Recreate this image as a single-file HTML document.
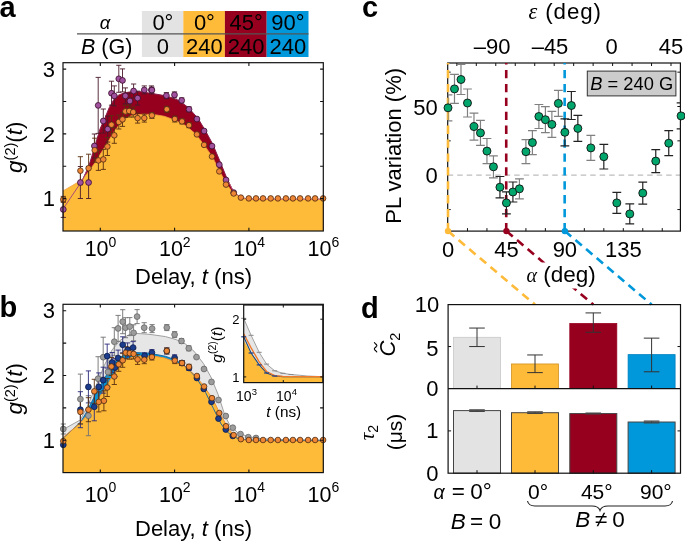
<!DOCTYPE html>
<html><head><meta charset="utf-8"><style>
html,body{margin:0;padding:0;background:#fff;width:685px;height:541px;overflow:hidden}
svg{display:block;will-change:transform}
text{font-family:"Liberation Sans",sans-serif}
</style></head><body>
<svg width="685" height="541" viewBox="0 0 685 541">
<rect width="685" height="541" fill="#fff"/>
<text x="-0.5" y="16.9" font-size="29" text-anchor="start" font-weight="bold" font-style="normal" font-family='"Liberation Sans", sans-serif' fill="#000" >a</text>
<rect x="141.9" y="11" width="41.4" height="46" fill="#E3E3E3"/>
<rect x="183.3" y="11" width="41.6" height="46" fill="#FEBB3A"/>
<rect x="224.9" y="11" width="41.8" height="46" fill="#96001E"/>
<rect x="266.7" y="11" width="41.8" height="46" fill="#0098DA"/>
<line x1="77" y1="33.8" x2="308.5" y2="33.8" stroke="#555" stroke-width="1.3"/>
<text x="105" y="28.6" font-size="18.5" text-anchor="middle" font-weight="normal" font-style="italic" font-family='"Liberation Serif", serif' fill="#000" >α</text>
<text x="81" y="53.6" font-size="21.5" font-family='"Liberation Sans", sans-serif'><tspan font-style="italic">B</tspan> (G)</text>
<text x="162.9" y="29.9" font-size="22" text-anchor="middle" font-weight="normal" font-style="normal" font-family='"Liberation Sans", sans-serif' fill="#000" >0°</text>
<text x="162.9" y="53.7" font-size="22" text-anchor="middle" font-weight="normal" font-style="normal" font-family='"Liberation Sans", sans-serif' fill="#000" >0</text>
<text x="204.4" y="29.9" font-size="22" text-anchor="middle" font-weight="normal" font-style="normal" font-family='"Liberation Sans", sans-serif' fill="#000" >0°</text>
<text x="204.4" y="53.7" font-size="22" text-anchor="middle" font-weight="normal" font-style="normal" font-family='"Liberation Sans", sans-serif' fill="#000" >240</text>
<text x="246.1" y="29.9" font-size="22" text-anchor="middle" font-weight="normal" font-style="normal" font-family='"Liberation Sans", sans-serif' fill="#000" >45°</text>
<text x="246.1" y="53.7" font-size="22" text-anchor="middle" font-weight="normal" font-style="normal" font-family='"Liberation Sans", sans-serif' fill="#000" >240</text>
<text x="287.9" y="29.9" font-size="22" text-anchor="middle" font-weight="normal" font-style="normal" font-family='"Liberation Sans", sans-serif' fill="#000" >90°</text>
<text x="287.9" y="53.7" font-size="22" text-anchor="middle" font-weight="normal" font-style="normal" font-family='"Liberation Sans", sans-serif' fill="#000" >240</text>
<polygon points="63,209 82.2,180.6 88.7,166.5 93.3,151.5 100,129 104.6,118.8 109.2,107.7 113.9,99.4 118.5,95.2 124,92.9 132.3,91.6 141.6,91.8 150,93.2 157,94.3 164.4,95.6 171,97.5 178.9,100.4 188.5,107.7 198.1,118.5 205.3,130.5 212.5,143.7 219.7,160.6 227,178.6 233,190.6 239,196.6 245,198.6 255,199.2 323.3,199.3 323.3,231 63,231" fill="#96001E" />
<polyline points="63,209 82.2,180.6 88.7,166.5 93.3,151.5 100,129 104.6,118.8 109.2,107.7 113.9,99.4 118.5,95.2 124,92.9 132.3,91.6 141.6,91.8 150,93.2 157,94.3 164.4,95.6 171,97.5 178.9,100.4 188.5,107.7 198.1,118.5 205.3,130.5 212.5,143.7 219.7,160.6 227,178.6 233,190.6 239,196.6 245,198.6 255,199.2 323.3,199.3" fill="none" stroke="#8A1A4A" stroke-width="1" stroke-linejoin="round" />
<polygon points="63,190.9 82.2,179.8 89,171 95.5,162 101,153 107,143.5 114.8,130.5 120.3,123.4 125,118.8 130.5,116 137,114.7 143.4,114.2 150,114.4 157,115 164.4,116.3 174,119.7 186,125.7 195.7,134.1 204.1,144.9 212.5,157 219.7,171.4 227,184.6 233,193 241.4,197.8 250,199.2 260,199.5 323.3,199.5 323.3,231 63,231" fill="#FEBB3A" />
<polyline points="63,190.9 82.2,179.8 89,171 95.5,162 101,153 107,143.5 114.8,130.5 120.3,123.4 125,118.8 130.5,116 137,114.7 143.4,114.2 150,114.4 157,115 164.4,116.3 174,119.7 186,125.7 195.7,134.1 204.1,144.9 212.5,157 219.7,171.4 227,184.6 233,193 241.4,197.8 250,199.2 260,199.5 323.3,199.5" fill="none" stroke="#F0A040" stroke-width="0.8" stroke-linejoin="round" />
<polyline points="63,209 82.2,180.6 88.7,166.5" fill="none" stroke="#A0407A" stroke-width="0.9" stroke-linejoin="round" />
<polyline points="227,178.6 233,190.6 239,196.6 245,198.6 255,199.2 323.3,199.3" fill="none" stroke="#C86480" stroke-width="0.8" stroke-linejoin="round" />
<path d="M63.3 201.4V217.4M60.7 201.4H65.9M60.7 217.4H65.9" stroke="#4A1A2A" stroke-width="0.9" fill="none"/>
<path d="M80.4 166.5V198.5M77.8 166.5H83M77.8 198.5H83" stroke="#4A1A2A" stroke-width="0.9" fill="none"/>
<path d="M88.6 166.5V198.5M86 166.5H91.2M86 198.5H91.2" stroke="#4A1A2A" stroke-width="0.9" fill="none"/>
<path d="M94.4 134V158M91.8 134H97M91.8 158H97" stroke="#4A1A2A" stroke-width="0.9" fill="none"/>
<path d="M98.2 77.4V133.4M95.6 77.4H100.8M95.6 133.4H100.8" stroke="#4A1A2A" stroke-width="0.9" fill="none"/>
<path d="M103.3 109V133M100.7 109H105.9M100.7 133H105.9" stroke="#4A1A2A" stroke-width="0.9" fill="none"/>
<path d="M107.7 116.1V142.1M105.1 116.1H110.3M105.1 142.1H110.3" stroke="#4A1A2A" stroke-width="0.9" fill="none"/>
<path d="M111.5 81.2V105.2M108.9 81.2H114.1M108.9 105.2H114.1" stroke="#4A1A2A" stroke-width="0.9" fill="none"/>
<path d="M114.3 85.9V105.9M111.7 85.9H116.9M111.7 105.9H116.9" stroke="#4A1A2A" stroke-width="0.9" fill="none"/>
<path d="M118.8 65.3V92.3M116.2 65.3H121.4M116.2 92.3H121.4" stroke="#4A1A2A" stroke-width="0.9" fill="none"/>
<path d="M122.5 68.9V91.9M119.9 68.9H125.1M119.9 91.9H125.1" stroke="#4A1A2A" stroke-width="0.9" fill="none"/>
<path d="M125.4 87.9V103.9M122.8 87.9H128M122.8 103.9H128" stroke="#4A1A2A" stroke-width="0.9" fill="none"/>
<path d="M129.9 93V109M127.3 93H132.5M127.3 109H132.5" stroke="#4A1A2A" stroke-width="0.9" fill="none"/>
<path d="M133.6 84V98M131 84H136.2M131 98H136.2" stroke="#4A1A2A" stroke-width="0.9" fill="none"/>
<path d="M137.6 91.1V105.1M135 91.1H140.2M135 105.1H140.2" stroke="#4A1A2A" stroke-width="0.9" fill="none"/>
<path d="M144.3 85.9V93.9M141.7 85.9H146.9M141.7 93.9H146.9" stroke="#4A1A2A" stroke-width="0.9" fill="none"/>
<path d="M151.4 85.9V93.9M148.8 85.9H154M148.8 93.9H154" stroke="#4A1A2A" stroke-width="0.9" fill="none"/>
<path d="M151.9 87.1V93.1M149.3 87.1H154.5M149.3 93.1H154.5" stroke="#4A1A2A" stroke-width="0.9" fill="none"/>
<path d="M166.4 92.6V98.6M163.8 92.6H169M163.8 98.6H169" stroke="#4A1A2A" stroke-width="0.9" fill="none"/>
<path d="M174.5 91.9V97.9M171.9 91.9H177.1M171.9 97.9H177.1" stroke="#4A1A2A" stroke-width="0.9" fill="none"/>
<path d="M181.7 97.9V102.9M179.1 97.9H184.3M179.1 102.9H184.3" stroke="#4A1A2A" stroke-width="0.9" fill="none"/>
<path d="M189 106.8V111.8M186.4 106.8H191.6M186.4 111.8H191.6" stroke="#4A1A2A" stroke-width="0.9" fill="none"/>
<path d="M63.3 196.4V202.4M60.7 196.4H65.9M60.7 202.4H65.9" stroke="#5A3010" stroke-width="0.9" fill="none"/>
<path d="M80.4 156.7V184.7M77.8 156.7H83M77.8 184.7H83" stroke="#5A3010" stroke-width="0.9" fill="none"/>
<path d="M88.6 154.2V182.2M86 154.2H91.2M86 182.2H91.2" stroke="#5A3010" stroke-width="0.9" fill="none"/>
<path d="M94.7 138.2V162.2M92.1 138.2H97.3M92.1 162.2H97.3" stroke="#5A3010" stroke-width="0.9" fill="none"/>
<path d="M98.4 150.4V170.4M95.8 150.4H101M95.8 170.4H101" stroke="#5A3010" stroke-width="0.9" fill="none"/>
<path d="M103.3 149.4V169.4M100.7 149.4H105.9M100.7 169.4H105.9" stroke="#5A3010" stroke-width="0.9" fill="none"/>
<path d="M107.4 137.5V155.5M104.8 137.5H110M104.8 155.5H110" stroke="#5A3010" stroke-width="0.9" fill="none"/>
<path d="M111.5 115.7V133.7M108.9 115.7H114.1M108.9 133.7H114.1" stroke="#5A3010" stroke-width="0.9" fill="none"/>
<path d="M114.3 127.3V143.3M111.7 127.3H116.9M111.7 143.3H116.9" stroke="#5A3010" stroke-width="0.9" fill="none"/>
<path d="M118.8 115V129M116.2 115H121.4M116.2 129H121.4" stroke="#5A3010" stroke-width="0.9" fill="none"/>
<path d="M122.5 112.4V126.4M119.9 112.4H125.1M119.9 126.4H125.1" stroke="#5A3010" stroke-width="0.9" fill="none"/>
<path d="M125.4 105.4V117.4M122.8 105.4H128M122.8 117.4H128" stroke="#5A3010" stroke-width="0.9" fill="none"/>
<path d="M129.2 105V117M126.6 105H131.8M126.6 117H131.8" stroke="#5A3010" stroke-width="0.9" fill="none"/>
<path d="M133.2 107.1V117.1M130.6 107.1H135.8M130.6 117.1H135.8" stroke="#5A3010" stroke-width="0.9" fill="none"/>
<path d="M137.6 113.1V123.1M135 113.1H140.2M135 123.1H140.2" stroke="#5A3010" stroke-width="0.9" fill="none"/>
<path d="M144.3 114.1V122.1M141.7 114.1H146.9M141.7 122.1H146.9" stroke="#5A3010" stroke-width="0.9" fill="none"/>
<path d="M151.9 112.4V118.4M149.3 112.4H154.5M149.3 118.4H154.5" stroke="#5A3010" stroke-width="0.9" fill="none"/>
<path d="M166.8 106.3V112.3M164.2 106.3H169.4M164.2 112.3H169.4" stroke="#5A3010" stroke-width="0.9" fill="none"/>
<path d="M174.8 116V122M172.2 116H177.4M172.2 122H177.4" stroke="#5A3010" stroke-width="0.9" fill="none"/>
<path d="M182 118.9V123.9M179.4 118.9H184.6M179.4 123.9H184.6" stroke="#5A3010" stroke-width="0.9" fill="none"/>
<path d="M189 122.7V127.7M186.4 122.7H191.6M186.4 127.7H191.6" stroke="#5A3010" stroke-width="0.9" fill="none"/>
<circle cx="63.3" cy="209.4" r="2.9" fill="#A0529E" stroke="#3A0A2A" stroke-width="0.8"/>
<circle cx="80.4" cy="182.5" r="2.9" fill="#A0529E" stroke="#3A0A2A" stroke-width="0.8"/>
<circle cx="88.6" cy="182.5" r="2.9" fill="#A0529E" stroke="#3A0A2A" stroke-width="0.8"/>
<circle cx="94.4" cy="146" r="2.9" fill="#A0529E" stroke="#3A0A2A" stroke-width="0.8"/>
<circle cx="98.2" cy="105.4" r="2.9" fill="#A0529E" stroke="#3A0A2A" stroke-width="0.8"/>
<circle cx="103.3" cy="121" r="2.9" fill="#A0529E" stroke="#3A0A2A" stroke-width="0.8"/>
<circle cx="107.7" cy="129.1" r="2.9" fill="#A0529E" stroke="#3A0A2A" stroke-width="0.8"/>
<circle cx="111.5" cy="93.2" r="2.9" fill="#A0529E" stroke="#3A0A2A" stroke-width="0.8"/>
<circle cx="114.3" cy="95.9" r="2.9" fill="#A0529E" stroke="#3A0A2A" stroke-width="0.8"/>
<circle cx="118.8" cy="78.8" r="2.9" fill="#A0529E" stroke="#3A0A2A" stroke-width="0.8"/>
<circle cx="122.5" cy="80.4" r="2.9" fill="#A0529E" stroke="#3A0A2A" stroke-width="0.8"/>
<circle cx="125.4" cy="95.9" r="2.9" fill="#A0529E" stroke="#3A0A2A" stroke-width="0.8"/>
<circle cx="129.9" cy="101" r="2.9" fill="#A0529E" stroke="#3A0A2A" stroke-width="0.8"/>
<circle cx="133.6" cy="91" r="2.9" fill="#A0529E" stroke="#3A0A2A" stroke-width="0.8"/>
<circle cx="137.6" cy="98.1" r="2.9" fill="#A0529E" stroke="#3A0A2A" stroke-width="0.8"/>
<circle cx="144.3" cy="89.9" r="2.9" fill="#A0529E" stroke="#3A0A2A" stroke-width="0.8"/>
<circle cx="151.4" cy="89.9" r="2.9" fill="#A0529E" stroke="#3A0A2A" stroke-width="0.8"/>
<circle cx="151.9" cy="90.1" r="2.9" fill="#A0529E" stroke="#3A0A2A" stroke-width="0.8"/>
<circle cx="166.4" cy="95.6" r="2.9" fill="#A0529E" stroke="#3A0A2A" stroke-width="0.8"/>
<circle cx="174.5" cy="94.9" r="2.9" fill="#A0529E" stroke="#3A0A2A" stroke-width="0.8"/>
<circle cx="181.7" cy="100.4" r="2.9" fill="#A0529E" stroke="#3A0A2A" stroke-width="0.8"/>
<circle cx="189" cy="109.3" r="2.9" fill="#A0529E" stroke="#3A0A2A" stroke-width="0.8"/>
<circle cx="196.9" cy="119" r="2.9" fill="#A0529E" stroke="#3A0A2A" stroke-width="0.8"/>
<circle cx="204.1" cy="131" r="2.9" fill="#A0529E" stroke="#3A0A2A" stroke-width="0.8"/>
<circle cx="212" cy="146.1" r="2.9" fill="#A0529E" stroke="#3A0A2A" stroke-width="0.8"/>
<circle cx="219.3" cy="164.7" r="2.9" fill="#A0529E" stroke="#3A0A2A" stroke-width="0.8"/>
<circle cx="226" cy="180" r="2.9" fill="#A0529E" stroke="#3A0A2A" stroke-width="0.8"/>
<circle cx="233.7" cy="192.6" r="2.9" fill="#A0529E" stroke="#3A0A2A" stroke-width="0.8"/>
<circle cx="63.3" cy="199.4" r="2.8" fill="#EE8636" stroke="#4A2A10" stroke-width="0.8"/>
<circle cx="80.4" cy="170.7" r="2.8" fill="#EE8636" stroke="#4A2A10" stroke-width="0.8"/>
<circle cx="88.6" cy="168.2" r="2.8" fill="#EE8636" stroke="#4A2A10" stroke-width="0.8"/>
<circle cx="94.7" cy="150.2" r="2.8" fill="#EE8636" stroke="#4A2A10" stroke-width="0.8"/>
<circle cx="98.4" cy="160.4" r="2.8" fill="#EE8636" stroke="#4A2A10" stroke-width="0.8"/>
<circle cx="103.3" cy="159.4" r="2.8" fill="#EE8636" stroke="#4A2A10" stroke-width="0.8"/>
<circle cx="107.4" cy="146.5" r="2.8" fill="#EE8636" stroke="#4A2A10" stroke-width="0.8"/>
<circle cx="111.5" cy="124.7" r="2.8" fill="#EE8636" stroke="#4A2A10" stroke-width="0.8"/>
<circle cx="114.3" cy="135.3" r="2.8" fill="#EE8636" stroke="#4A2A10" stroke-width="0.8"/>
<circle cx="118.8" cy="122" r="2.8" fill="#EE8636" stroke="#4A2A10" stroke-width="0.8"/>
<circle cx="122.5" cy="119.4" r="2.8" fill="#EE8636" stroke="#4A2A10" stroke-width="0.8"/>
<circle cx="125.4" cy="111.4" r="2.8" fill="#EE8636" stroke="#4A2A10" stroke-width="0.8"/>
<circle cx="129.2" cy="111" r="2.8" fill="#EE8636" stroke="#4A2A10" stroke-width="0.8"/>
<circle cx="133.2" cy="112.1" r="2.8" fill="#EE8636" stroke="#4A2A10" stroke-width="0.8"/>
<circle cx="137.6" cy="118.1" r="2.8" fill="#EE8636" stroke="#4A2A10" stroke-width="0.8"/>
<circle cx="144.3" cy="118.1" r="2.8" fill="#EE8636" stroke="#4A2A10" stroke-width="0.8"/>
<circle cx="151.9" cy="115.4" r="2.8" fill="#EE8636" stroke="#4A2A10" stroke-width="0.8"/>
<circle cx="166.8" cy="109.3" r="2.8" fill="#EE8636" stroke="#4A2A10" stroke-width="0.8"/>
<circle cx="174.8" cy="119" r="2.8" fill="#EE8636" stroke="#4A2A10" stroke-width="0.8"/>
<circle cx="182" cy="121.4" r="2.8" fill="#EE8636" stroke="#4A2A10" stroke-width="0.8"/>
<circle cx="189" cy="125.2" r="2.8" fill="#EE8636" stroke="#4A2A10" stroke-width="0.8"/>
<circle cx="196.9" cy="134.4" r="2.8" fill="#EE8636" stroke="#4A2A10" stroke-width="0.8"/>
<circle cx="204.1" cy="144.9" r="2.8" fill="#EE8636" stroke="#4A2A10" stroke-width="0.8"/>
<circle cx="212" cy="156.5" r="2.8" fill="#EE8636" stroke="#4A2A10" stroke-width="0.8"/>
<circle cx="219.3" cy="171.4" r="2.8" fill="#EE8636" stroke="#4A2A10" stroke-width="0.8"/>
<circle cx="226" cy="184.6" r="2.8" fill="#EE8636" stroke="#4A2A10" stroke-width="0.8"/>
<circle cx="233.7" cy="193.5" r="2.8" fill="#EE8636" stroke="#4A2A10" stroke-width="0.8"/>
<circle cx="240.9" cy="197.6" r="2.8" fill="#EE8636" stroke="#4A2A10" stroke-width="0.8"/>
<circle cx="248.8" cy="198.4" r="2.8" fill="#EE8636" stroke="#4A2A10" stroke-width="0.8"/>
<circle cx="256" cy="198.4" r="2.8" fill="#EE8636" stroke="#4A2A10" stroke-width="0.8"/>
<circle cx="263" cy="198.4" r="2.8" fill="#EE8636" stroke="#4A2A10" stroke-width="0.8"/>
<circle cx="270.7" cy="198.4" r="2.8" fill="#EE8636" stroke="#4A2A10" stroke-width="0.8"/>
<circle cx="277.9" cy="198.4" r="2.8" fill="#EE8636" stroke="#4A2A10" stroke-width="0.8"/>
<circle cx="285.9" cy="198.4" r="2.8" fill="#EE8636" stroke="#4A2A10" stroke-width="0.8"/>
<circle cx="292.9" cy="198.4" r="2.8" fill="#EE8636" stroke="#4A2A10" stroke-width="0.8"/>
<circle cx="300.1" cy="198.4" r="2.8" fill="#EE8636" stroke="#4A2A10" stroke-width="0.8"/>
<circle cx="308.1" cy="198.4" r="2.8" fill="#EE8636" stroke="#4A2A10" stroke-width="0.8"/>
<circle cx="315.1" cy="198.4" r="2.8" fill="#EE8636" stroke="#4A2A10" stroke-width="0.8"/>
<circle cx="323.1" cy="198.4" r="2.8" fill="#EE8636" stroke="#4A2A10" stroke-width="0.8"/>
<rect x="63" y="62.7" width="260.3" height="168.3" fill="none" stroke="#111" stroke-width="1.2"/>
<path d="M100.3 62.7v3.2M100.3 231v-3.2M174.6 62.7v3.2M174.6 231v-3.2M248.9 62.7v3.2M248.9 231v-3.2M63 198.6h3.2M323.3 198.6h-3.2M63 166.23h3.2M323.3 166.23h-3.2M63 133.87h3.2M323.3 133.87h-3.2M63 101.5h3.2M323.3 101.5h-3.2M63 69.14h3.2M323.3 69.14h-3.2" stroke="#111" stroke-width="1.1" fill="none"/>
<text x="54.9" y="206.3" font-size="22" text-anchor="end" font-weight="normal" font-style="normal" font-family='"Liberation Sans", sans-serif' fill="#000" >1</text>
<text x="54.9" y="141.57" font-size="22" text-anchor="end" font-weight="normal" font-style="normal" font-family='"Liberation Sans", sans-serif' fill="#000" >2</text>
<text x="54.9" y="76.84" font-size="22" text-anchor="end" font-weight="normal" font-style="normal" font-family='"Liberation Sans", sans-serif' fill="#000" >3</text>
<text x="100.5" y="256.4" font-size="21.5" font-family='"Liberation Sans", sans-serif' text-anchor="middle">10<tspan dy="-9.8" font-size="14">0</tspan></text>
<text x="174.8" y="256.4" font-size="21.5" font-family='"Liberation Sans", sans-serif' text-anchor="middle">10<tspan dy="-9.8" font-size="14">2</tspan></text>
<text x="249.1" y="256.4" font-size="21.5" font-family='"Liberation Sans", sans-serif' text-anchor="middle">10<tspan dy="-9.8" font-size="14">4</tspan></text>
<text x="323.4" y="256.4" font-size="21.5" font-family='"Liberation Sans", sans-serif' text-anchor="middle">10<tspan dy="-9.8" font-size="14">6</tspan></text>
<text x="135.0" y="283.6" font-size="22" font-family='"Liberation Sans", sans-serif'>Delay, <tspan font-style="italic">t</tspan> (ns)</text>
<text transform="translate(21.6 147.2) rotate(-90)" font-size="22.5" font-family='"Liberation Sans", sans-serif' text-anchor="middle"><tspan font-style="italic">g</tspan><tspan dy="-7" font-size="14.5">(2)</tspan><tspan dy="7">(</tspan><tspan font-style="italic">t</tspan>)</text>
<text x="-0.5" y="316.8" font-size="29" text-anchor="start" font-weight="bold" font-style="normal" font-family='"Liberation Sans", sans-serif' fill="#000" >b</text>
<polygon points="63,429.6 80.4,419.9 88,405 96,386 104,366 112,350 120,340.5 128,335.2 135,333.3 150,334.4 165.5,336.6 176,339.6 185,343.7 193.9,351.1 203.5,363.6 210.9,377 218.2,394.7 224.9,415.4 229.5,424.6 237.9,432.8 248.3,436.7 260,438.6 280,439.6 323.3,440 323.3,472.6 63,472.6" fill="#E6E6E6" />
<polyline points="63,429.6 80.4,419.9 88,405 96,386 104,366 112,350 120,340.5 128,335.2 135,333.3 150,334.4 165.5,336.6 176,339.6 185,343.7 193.9,351.1 203.5,363.6 210.9,377 218.2,394.7 224.9,415.4 229.5,424.6 237.9,432.8 248.3,436.7 260,438.6 280,439.6 323.3,440" fill="none" stroke="#A0A0A0" stroke-width="1" stroke-linejoin="round" />
<polygon points="63,438.3 80.4,422.3 86.7,411.8 94.6,396.1 100.8,385.1 108.7,371 113.4,363.1 120,357.2 128,353.6 134,352.4 150,353.3 165.5,356.3 175.9,360 186.2,367 196.5,378 205.6,392.5 213.4,408.5 221.1,424 228.9,433.5 237.9,438.6 248.3,440 323.3,440.6 323.3,472.6 63,472.6" fill="#0098DA" />
<polygon points="63,437.6 80.4,422.8 89,412.6 95.5,403.6 101,394.6 107,385.1 114.8,372.1 120.3,365 125,360.4 130.5,357.6 137,356.3 143.4,355.8 150,356 157,356.6 164.4,357.9 174,361.3 186,367.3 195.7,375.7 204.1,386.5 212.5,398.6 219.7,413 227,426.2 233,434.6 241.4,439.4 250,440.8 260,441.1 323.3,441.1 323.3,472.6 63,472.6" fill="#FEBB3A" />
<polyline points="63,438.3 80.4,422.3 86.7,411.8 94.6,396.1 100.8,385.1 108.7,371 113.4,363.1 120,357.2 128,353.6 134,352.4 150,353.3 165.5,356.3 175.9,360 186.2,367 196.5,378 205.6,392.5 213.4,408.5 221.1,424 228.9,433.5 237.9,438.6 248.3,440 323.3,440.6" fill="none" stroke="#1060A0" stroke-width="0.9" stroke-linejoin="round" />
<polyline points="63,437.6 80.4,422.8 89,412.6 95.5,403.6 101,394.6 107,385.1 114.8,372.1 120.3,365 125,360.4 130.5,357.6 137,356.3 143.4,355.8 150,356 157,356.6 164.4,357.9 174,361.3 186,367.3 195.7,375.7 204.1,386.5 212.5,398.6 219.7,413 227,426.2 233,434.6 241.4,439.4 250,440.8 260,441.1 323.3,441.1" fill="none" stroke="#F08A30" stroke-width="0.9" stroke-linejoin="round" />
<path d="M63.3 424V434M60.7 424H65.9M60.7 434H65.9" stroke="#707070" stroke-width="0.9" fill="none"/>
<path d="M80.4 374.1V424.1M77.8 374.1H83M77.8 424.1H83" stroke="#707070" stroke-width="0.9" fill="none"/>
<path d="M88.4 395.7V435.7M85.8 395.7H91M85.8 435.7H91" stroke="#707070" stroke-width="0.9" fill="none"/>
<path d="M98.1 356.7V400.7M95.5 356.7H100.7M95.5 400.7H100.7" stroke="#707070" stroke-width="0.9" fill="none"/>
<path d="M103.2 337.2V377.2M100.6 337.2H105.8M100.6 377.2H105.8" stroke="#707070" stroke-width="0.9" fill="none"/>
<path d="M108 357V387M105.4 357H110.6M105.4 387H110.6" stroke="#707070" stroke-width="0.9" fill="none"/>
<path d="M114.3 327.7V355.7M111.7 327.7H116.9M111.7 355.7H116.9" stroke="#707070" stroke-width="0.9" fill="none"/>
<path d="M118.1 315.4V341.4M115.5 315.4H120.7M115.5 341.4H120.7" stroke="#707070" stroke-width="0.9" fill="none"/>
<path d="M122.7 309.7V333.7M120.1 309.7H125.3M120.1 333.7H125.3" stroke="#707070" stroke-width="0.9" fill="none"/>
<path d="M125.4 317.7V337.7M122.8 317.7H128M122.8 337.7H128" stroke="#707070" stroke-width="0.9" fill="none"/>
<path d="M129.8 317.6V335.6M127.2 317.6H132.4M127.2 335.6H132.4" stroke="#707070" stroke-width="0.9" fill="none"/>
<path d="M133.6 324.8V340.8M131 324.8H136.2M131 340.8H136.2" stroke="#707070" stroke-width="0.9" fill="none"/>
<path d="M137.1 309.6V323.6M134.5 309.6H139.7M134.5 323.6H139.7" stroke="#707070" stroke-width="0.9" fill="none"/>
<path d="M144.2 322.7V332.7M141.6 322.7H146.8M141.6 332.7H146.8" stroke="#707070" stroke-width="0.9" fill="none"/>
<path d="M152.1 324.6V332.6M149.5 324.6H154.7M149.5 332.6H154.7" stroke="#707070" stroke-width="0.9" fill="none"/>
<path d="M166.8 324.6V330.6M164.2 324.6H169.4M164.2 330.6H169.4" stroke="#707070" stroke-width="0.9" fill="none"/>
<path d="M174.6 331.6V337.6M172 331.6H177.2M172 337.6H177.2" stroke="#707070" stroke-width="0.9" fill="none"/>
<path d="M181.5 338.5V343.5M178.9 338.5H184.1M178.9 343.5H184.1" stroke="#707070" stroke-width="0.9" fill="none"/>
<path d="M188.8 345.8V350.8M186.2 345.8H191.4M186.2 350.8H191.4" stroke="#707070" stroke-width="0.9" fill="none"/>
<path d="M80.4 391.7V427.7M77.8 391.7H83M77.8 427.7H83" stroke="#2A2A7A" stroke-width="0.9" fill="none"/>
<path d="M88.4 370.9V402.9M85.8 370.9H91M85.8 402.9H91" stroke="#2A2A7A" stroke-width="0.9" fill="none"/>
<path d="M94.3 392.8V420.8M91.7 392.8H96.9M91.7 420.8H96.9" stroke="#2A2A7A" stroke-width="0.9" fill="none"/>
<path d="M98.8 372.9V400.9M96.2 372.9H101.4M96.2 400.9H101.4" stroke="#2A2A7A" stroke-width="0.9" fill="none"/>
<path d="M103.2 367.2V393.2M100.6 367.2H105.8M100.6 393.2H105.8" stroke="#2A2A7A" stroke-width="0.9" fill="none"/>
<path d="M107.2 344.1V368.1M104.6 344.1H109.8M104.6 368.1H109.8" stroke="#2A2A7A" stroke-width="0.9" fill="none"/>
<path d="M112.1 352.5V372.5M109.5 352.5H114.7M109.5 372.5H114.7" stroke="#2A2A7A" stroke-width="0.9" fill="none"/>
<path d="M115 358.6V376.6M112.4 358.6H117.6M112.4 376.6H117.6" stroke="#2A2A7A" stroke-width="0.9" fill="none"/>
<path d="M118.1 350.1V366.1M115.5 350.1H120.7M115.5 366.1H120.7" stroke="#2A2A7A" stroke-width="0.9" fill="none"/>
<path d="M122.7 336.8V352.8M120.1 336.8H125.3M120.1 352.8H125.3" stroke="#2A2A7A" stroke-width="0.9" fill="none"/>
<path d="M127.6 342.9V356.9M125 342.9H130.2M125 356.9H130.2" stroke="#2A2A7A" stroke-width="0.9" fill="none"/>
<path d="M133.1 341.6V353.6M130.5 341.6H135.7M130.5 353.6H135.7" stroke="#2A2A7A" stroke-width="0.9" fill="none"/>
<path d="M144.6 352.8V358.8M142 352.8H147.2M142 358.8H147.2" stroke="#2A2A7A" stroke-width="0.9" fill="none"/>
<path d="M151.9 349.6V355.6M149.3 349.6H154.5M149.3 355.6H154.5" stroke="#2A2A7A" stroke-width="0.9" fill="none"/>
<path d="M166.8 348V354M164.2 348H169.4M164.2 354H169.4" stroke="#2A2A7A" stroke-width="0.9" fill="none"/>
<path d="M174.6 354.8V360.8M172 354.8H177.2M172 360.8H177.2" stroke="#2A2A7A" stroke-width="0.9" fill="none"/>
<path d="M182 360.5V365.5M179.4 360.5H184.6M179.4 365.5H184.6" stroke="#2A2A7A" stroke-width="0.9" fill="none"/>
<path d="M189 365.5V370.5M186.4 365.5H191.6M186.4 370.5H191.6" stroke="#2A2A7A" stroke-width="0.9" fill="none"/>
<path d="M80.4 399.9V423.9M77.8 399.9H83M77.8 423.9H83" stroke="#5A3010" stroke-width="0.9" fill="none"/>
<path d="M88.4 397.7V421.7M85.8 397.7H91M85.8 421.7H91" stroke="#5A3010" stroke-width="0.9" fill="none"/>
<path d="M94.3 379.3V403.3M91.7 379.3H96.9M91.7 403.3H96.9" stroke="#5A3010" stroke-width="0.9" fill="none"/>
<path d="M98.8 391.9V411.9M96.2 391.9H101.4M96.2 411.9H101.4" stroke="#5A3010" stroke-width="0.9" fill="none"/>
<path d="M103.9 390.8V410.8M101.3 390.8H106.5M101.3 410.8H106.5" stroke="#5A3010" stroke-width="0.9" fill="none"/>
<path d="M107.2 378.5V396.5M104.6 378.5H109.8M104.6 396.5H109.8" stroke="#5A3010" stroke-width="0.9" fill="none"/>
<path d="M111.4 357.5V375.5M108.8 357.5H114M108.8 375.5H114" stroke="#5A3010" stroke-width="0.9" fill="none"/>
<path d="M114.3 368.5V384.5M111.7 368.5H116.9M111.7 384.5H116.9" stroke="#5A3010" stroke-width="0.9" fill="none"/>
<path d="M118.7 357.3V371.3M116.1 357.3H121.3M116.1 371.3H121.3" stroke="#5A3010" stroke-width="0.9" fill="none"/>
<path d="M122.7 353.3V367.3M120.1 353.3H125.3M120.1 367.3H125.3" stroke="#5A3010" stroke-width="0.9" fill="none"/>
<path d="M125.8 346.7V358.7M123.2 346.7H128.4M123.2 358.7H128.4" stroke="#5A3010" stroke-width="0.9" fill="none"/>
<path d="M129.8 347.2V359.2M127.2 347.2H132.4M127.2 359.2H132.4" stroke="#5A3010" stroke-width="0.9" fill="none"/>
<path d="M133.6 348.9V358.9M131 348.9H136.2M131 358.9H136.2" stroke="#5A3010" stroke-width="0.9" fill="none"/>
<path d="M137.6 354.4V364.4M135 354.4H140.2M135 364.4H140.2" stroke="#5A3010" stroke-width="0.9" fill="none"/>
<path d="M144.3 355.7V363.7M141.7 355.7H146.9M141.7 363.7H146.9" stroke="#5A3010" stroke-width="0.9" fill="none"/>
<path d="M151.9 354V360M149.3 354H154.5M149.3 360H154.5" stroke="#5A3010" stroke-width="0.9" fill="none"/>
<path d="M166.8 347.9V353.9M164.2 347.9H169.4M164.2 353.9H169.4" stroke="#5A3010" stroke-width="0.9" fill="none"/>
<path d="M174.8 357.6V363.6M172.2 357.6H177.4M172.2 363.6H177.4" stroke="#5A3010" stroke-width="0.9" fill="none"/>
<path d="M182 360.5V365.5M179.4 360.5H184.6M179.4 365.5H184.6" stroke="#5A3010" stroke-width="0.9" fill="none"/>
<path d="M189 364.3V369.3M186.4 364.3H191.6M186.4 369.3H191.6" stroke="#5A3010" stroke-width="0.9" fill="none"/>
<circle cx="63.3" cy="429" r="2.9" fill="#9C9C9C" stroke="#666" stroke-width="0.8"/>
<circle cx="80.4" cy="399.1" r="2.9" fill="#9C9C9C" stroke="#666" stroke-width="0.8"/>
<circle cx="88.4" cy="415.7" r="2.9" fill="#9C9C9C" stroke="#666" stroke-width="0.8"/>
<circle cx="98.1" cy="378.7" r="2.9" fill="#9C9C9C" stroke="#666" stroke-width="0.8"/>
<circle cx="103.2" cy="357.2" r="2.9" fill="#9C9C9C" stroke="#666" stroke-width="0.8"/>
<circle cx="108" cy="372" r="2.9" fill="#9C9C9C" stroke="#666" stroke-width="0.8"/>
<circle cx="114.3" cy="341.7" r="2.9" fill="#9C9C9C" stroke="#666" stroke-width="0.8"/>
<circle cx="118.1" cy="328.4" r="2.9" fill="#9C9C9C" stroke="#666" stroke-width="0.8"/>
<circle cx="122.7" cy="321.7" r="2.9" fill="#9C9C9C" stroke="#666" stroke-width="0.8"/>
<circle cx="125.4" cy="327.7" r="2.9" fill="#9C9C9C" stroke="#666" stroke-width="0.8"/>
<circle cx="129.8" cy="326.6" r="2.9" fill="#9C9C9C" stroke="#666" stroke-width="0.8"/>
<circle cx="133.6" cy="332.8" r="2.9" fill="#9C9C9C" stroke="#666" stroke-width="0.8"/>
<circle cx="137.1" cy="316.6" r="2.9" fill="#9C9C9C" stroke="#666" stroke-width="0.8"/>
<circle cx="144.2" cy="327.7" r="2.9" fill="#9C9C9C" stroke="#666" stroke-width="0.8"/>
<circle cx="152.1" cy="328.6" r="2.9" fill="#9C9C9C" stroke="#666" stroke-width="0.8"/>
<circle cx="166.8" cy="327.6" r="2.9" fill="#9C9C9C" stroke="#666" stroke-width="0.8"/>
<circle cx="174.6" cy="334.6" r="2.9" fill="#9C9C9C" stroke="#666" stroke-width="0.8"/>
<circle cx="181.5" cy="341" r="2.9" fill="#9C9C9C" stroke="#666" stroke-width="0.8"/>
<circle cx="188.8" cy="348.3" r="2.9" fill="#9C9C9C" stroke="#666" stroke-width="0.8"/>
<circle cx="196.5" cy="357.1" r="2.9" fill="#9C9C9C" stroke="#666" stroke-width="0.8"/>
<circle cx="204" cy="369" r="2.9" fill="#9C9C9C" stroke="#666" stroke-width="0.8"/>
<circle cx="211.5" cy="381.9" r="2.9" fill="#9C9C9C" stroke="#666" stroke-width="0.8"/>
<circle cx="218.5" cy="400" r="2.9" fill="#9C9C9C" stroke="#666" stroke-width="0.8"/>
<circle cx="225.8" cy="416" r="2.9" fill="#9C9C9C" stroke="#666" stroke-width="0.8"/>
<circle cx="232.8" cy="427.7" r="2.9" fill="#9C9C9C" stroke="#666" stroke-width="0.8"/>
<circle cx="240.5" cy="434.1" r="2.9" fill="#9C9C9C" stroke="#666" stroke-width="0.8"/>
<circle cx="248.3" cy="437.2" r="2.9" fill="#9C9C9C" stroke="#666" stroke-width="0.8"/>
<circle cx="256" cy="438" r="2.9" fill="#9C9C9C" stroke="#666" stroke-width="0.8"/>
<circle cx="63.3" cy="444.8" r="2.9" fill="#1B3C8C" stroke="#0A1A4A" stroke-width="0.8"/>
<circle cx="80.4" cy="409.7" r="2.9" fill="#1B3C8C" stroke="#0A1A4A" stroke-width="0.8"/>
<circle cx="88.4" cy="386.9" r="2.9" fill="#1B3C8C" stroke="#0A1A4A" stroke-width="0.8"/>
<circle cx="94.3" cy="406.8" r="2.9" fill="#1B3C8C" stroke="#0A1A4A" stroke-width="0.8"/>
<circle cx="98.8" cy="386.9" r="2.9" fill="#1B3C8C" stroke="#0A1A4A" stroke-width="0.8"/>
<circle cx="103.2" cy="380.2" r="2.9" fill="#1B3C8C" stroke="#0A1A4A" stroke-width="0.8"/>
<circle cx="107.2" cy="356.1" r="2.9" fill="#1B3C8C" stroke="#0A1A4A" stroke-width="0.8"/>
<circle cx="112.1" cy="362.5" r="2.9" fill="#1B3C8C" stroke="#0A1A4A" stroke-width="0.8"/>
<circle cx="115" cy="367.6" r="2.9" fill="#1B3C8C" stroke="#0A1A4A" stroke-width="0.8"/>
<circle cx="118.1" cy="358.1" r="2.9" fill="#1B3C8C" stroke="#0A1A4A" stroke-width="0.8"/>
<circle cx="122.7" cy="344.8" r="2.9" fill="#1B3C8C" stroke="#0A1A4A" stroke-width="0.8"/>
<circle cx="127.6" cy="349.9" r="2.9" fill="#1B3C8C" stroke="#0A1A4A" stroke-width="0.8"/>
<circle cx="133.1" cy="347.6" r="2.9" fill="#1B3C8C" stroke="#0A1A4A" stroke-width="0.8"/>
<circle cx="144.6" cy="355.8" r="2.9" fill="#1B3C8C" stroke="#0A1A4A" stroke-width="0.8"/>
<circle cx="151.9" cy="352.6" r="2.9" fill="#1B3C8C" stroke="#0A1A4A" stroke-width="0.8"/>
<circle cx="166.8" cy="351" r="2.9" fill="#1B3C8C" stroke="#0A1A4A" stroke-width="0.8"/>
<circle cx="174.6" cy="357.8" r="2.9" fill="#1B3C8C" stroke="#0A1A4A" stroke-width="0.8"/>
<circle cx="182" cy="363" r="2.9" fill="#1B3C8C" stroke="#0A1A4A" stroke-width="0.8"/>
<circle cx="189" cy="368" r="2.9" fill="#1B3C8C" stroke="#0A1A4A" stroke-width="0.8"/>
<circle cx="196.9" cy="378" r="2.9" fill="#1B3C8C" stroke="#0A1A4A" stroke-width="0.8"/>
<circle cx="203.8" cy="388.9" r="2.9" fill="#1B3C8C" stroke="#0A1A4A" stroke-width="0.8"/>
<circle cx="211.5" cy="401.8" r="2.9" fill="#1B3C8C" stroke="#0A1A4A" stroke-width="0.8"/>
<circle cx="218.5" cy="418.6" r="2.9" fill="#1B3C8C" stroke="#0A1A4A" stroke-width="0.8"/>
<circle cx="225.8" cy="429.5" r="2.9" fill="#1B3C8C" stroke="#0A1A4A" stroke-width="0.8"/>
<circle cx="232.8" cy="435.9" r="2.9" fill="#1B3C8C" stroke="#0A1A4A" stroke-width="0.8"/>
<circle cx="63.3" cy="441.1" r="2.8" fill="#EE8636" stroke="#4A2A10" stroke-width="0.8"/>
<circle cx="80.4" cy="411.9" r="2.8" fill="#EE8636" stroke="#4A2A10" stroke-width="0.8"/>
<circle cx="88.4" cy="409.7" r="2.8" fill="#EE8636" stroke="#4A2A10" stroke-width="0.8"/>
<circle cx="94.3" cy="391.3" r="2.8" fill="#EE8636" stroke="#4A2A10" stroke-width="0.8"/>
<circle cx="98.8" cy="401.9" r="2.8" fill="#EE8636" stroke="#4A2A10" stroke-width="0.8"/>
<circle cx="103.9" cy="400.8" r="2.8" fill="#EE8636" stroke="#4A2A10" stroke-width="0.8"/>
<circle cx="107.2" cy="387.5" r="2.8" fill="#EE8636" stroke="#4A2A10" stroke-width="0.8"/>
<circle cx="111.4" cy="366.5" r="2.8" fill="#EE8636" stroke="#4A2A10" stroke-width="0.8"/>
<circle cx="114.3" cy="376.5" r="2.8" fill="#EE8636" stroke="#4A2A10" stroke-width="0.8"/>
<circle cx="118.7" cy="364.3" r="2.8" fill="#EE8636" stroke="#4A2A10" stroke-width="0.8"/>
<circle cx="122.7" cy="360.3" r="2.8" fill="#EE8636" stroke="#4A2A10" stroke-width="0.8"/>
<circle cx="125.8" cy="352.7" r="2.8" fill="#EE8636" stroke="#4A2A10" stroke-width="0.8"/>
<circle cx="129.8" cy="353.2" r="2.8" fill="#EE8636" stroke="#4A2A10" stroke-width="0.8"/>
<circle cx="133.6" cy="353.9" r="2.8" fill="#EE8636" stroke="#4A2A10" stroke-width="0.8"/>
<circle cx="137.6" cy="359.4" r="2.8" fill="#EE8636" stroke="#4A2A10" stroke-width="0.8"/>
<circle cx="144.3" cy="359.7" r="2.8" fill="#EE8636" stroke="#4A2A10" stroke-width="0.8"/>
<circle cx="151.9" cy="357" r="2.8" fill="#EE8636" stroke="#4A2A10" stroke-width="0.8"/>
<circle cx="166.8" cy="350.9" r="2.8" fill="#EE8636" stroke="#4A2A10" stroke-width="0.8"/>
<circle cx="174.8" cy="360.6" r="2.8" fill="#EE8636" stroke="#4A2A10" stroke-width="0.8"/>
<circle cx="182" cy="363" r="2.8" fill="#EE8636" stroke="#4A2A10" stroke-width="0.8"/>
<circle cx="189" cy="366.8" r="2.8" fill="#EE8636" stroke="#4A2A10" stroke-width="0.8"/>
<circle cx="196.9" cy="376" r="2.8" fill="#EE8636" stroke="#4A2A10" stroke-width="0.8"/>
<circle cx="204.1" cy="386.5" r="2.8" fill="#EE8636" stroke="#4A2A10" stroke-width="0.8"/>
<circle cx="212" cy="398.1" r="2.8" fill="#EE8636" stroke="#4A2A10" stroke-width="0.8"/>
<circle cx="219.3" cy="413" r="2.8" fill="#EE8636" stroke="#4A2A10" stroke-width="0.8"/>
<circle cx="226" cy="426.2" r="2.8" fill="#EE8636" stroke="#4A2A10" stroke-width="0.8"/>
<circle cx="233.7" cy="435.1" r="2.8" fill="#EE8636" stroke="#4A2A10" stroke-width="0.8"/>
<circle cx="240.9" cy="439.2" r="2.8" fill="#EE8636" stroke="#4A2A10" stroke-width="0.8"/>
<circle cx="248.8" cy="440" r="2.8" fill="#EE8636" stroke="#4A2A10" stroke-width="0.8"/>
<circle cx="256" cy="440" r="2.8" fill="#EE8636" stroke="#4A2A10" stroke-width="0.8"/>
<circle cx="263" cy="440" r="2.8" fill="#EE8636" stroke="#4A2A10" stroke-width="0.8"/>
<circle cx="270.7" cy="440" r="2.8" fill="#EE8636" stroke="#4A2A10" stroke-width="0.8"/>
<circle cx="277.9" cy="440" r="2.8" fill="#EE8636" stroke="#4A2A10" stroke-width="0.8"/>
<circle cx="285.9" cy="440" r="2.8" fill="#EE8636" stroke="#4A2A10" stroke-width="0.8"/>
<circle cx="292.9" cy="440" r="2.8" fill="#EE8636" stroke="#4A2A10" stroke-width="0.8"/>
<circle cx="300.1" cy="440" r="2.8" fill="#EE8636" stroke="#4A2A10" stroke-width="0.8"/>
<circle cx="308.1" cy="440" r="2.8" fill="#EE8636" stroke="#4A2A10" stroke-width="0.8"/>
<circle cx="315.1" cy="440" r="2.8" fill="#EE8636" stroke="#4A2A10" stroke-width="0.8"/>
<circle cx="323.1" cy="440" r="2.8" fill="#EE8636" stroke="#4A2A10" stroke-width="0.8"/>
<rect x="63" y="304.3" width="260.3" height="168.3" fill="none" stroke="#111" stroke-width="1.2"/>
<path d="M100.3 304.3v3.2M100.3 472.6v-3.2M174.6 304.3v3.2M174.6 472.6v-3.2M248.9 304.3v3.2M248.9 472.6v-3.2M63 440.2h3.2M323.3 440.2h-3.2M63 407.84h3.2M323.3 407.84h-3.2M63 375.47h3.2M323.3 375.47h-3.2M63 343.11h3.2M323.3 343.11h-3.2M63 310.74h3.2M323.3 310.74h-3.2" stroke="#111" stroke-width="1.1" fill="none"/>
<text x="54.9" y="447.9" font-size="22" text-anchor="end" font-weight="normal" font-style="normal" font-family='"Liberation Sans", sans-serif' fill="#000" >1</text>
<text x="54.9" y="383.17" font-size="22" text-anchor="end" font-weight="normal" font-style="normal" font-family='"Liberation Sans", sans-serif' fill="#000" >2</text>
<text x="54.9" y="318.44" font-size="22" text-anchor="end" font-weight="normal" font-style="normal" font-family='"Liberation Sans", sans-serif' fill="#000" >3</text>
<text x="100.5" y="501.8" font-size="21.5" font-family='"Liberation Sans", sans-serif' text-anchor="middle">10<tspan dy="-9.8" font-size="14">0</tspan></text>
<text x="174.8" y="501.8" font-size="21.5" font-family='"Liberation Sans", sans-serif' text-anchor="middle">10<tspan dy="-9.8" font-size="14">2</tspan></text>
<text x="249.1" y="501.8" font-size="21.5" font-family='"Liberation Sans", sans-serif' text-anchor="middle">10<tspan dy="-9.8" font-size="14">4</tspan></text>
<text x="323.4" y="501.8" font-size="21.5" font-family='"Liberation Sans", sans-serif' text-anchor="middle">10<tspan dy="-9.8" font-size="14">6</tspan></text>
<text x="135.0" y="536.4" font-size="22" font-family='"Liberation Sans", sans-serif'>Delay, <tspan font-style="italic">t</tspan> (ns)</text>
<text transform="translate(21.6 388.8) rotate(-90)" font-size="22.5" font-family='"Liberation Sans", sans-serif' text-anchor="middle"><tspan font-style="italic">g</tspan><tspan dy="-7" font-size="14.5">(2)</tspan><tspan dy="7">(</tspan><tspan font-style="italic">t</tspan>)</text>
<rect x="243.7" y="305" width="79.1" height="77.6" fill="#fff"/>
<polygon points="243.7,318.3 251.1,335.3 259.2,352.3 266.6,364.1 274.7,370.8 282.9,373.3 291,374.5 299.1,375.2 307.3,376 322.8,376.7 322.8,382.6 243.7,382.6" fill="#E6E6E6" />
<polyline points="243.7,318.3 251.1,335.3 259.2,352.3 266.6,364.1 274.7,370.8 282.9,373.3 291,374.5 299.1,375.2 307.3,376 322.8,376.7" fill="none" stroke="#999" stroke-width="0.9" stroke-linejoin="round" />
<polygon points="243.7,340.5 252,354.5 259.3,366 267.2,373 274.7,376.2 282.9,376.8 322.8,377 322.8,382.6 243.7,382.6" fill="#FEBB3A" />
<polyline points="243.7,336.8 251.1,353 259.2,364.9 266.6,373 274.7,376 282.9,376.6 322.8,376.8" fill="none" stroke="#1A4A7A" stroke-width="1.1" stroke-linejoin="round" />
<polyline points="243.7,333.8 251.1,347.9 259.2,361.9 266.6,371.5 274.7,375.7 282.9,376.4 322.8,376.7" fill="none" stroke="#F07828" stroke-width="1.3" stroke-linejoin="round" />
<path d="M241.2 318.3h5" stroke="#888" stroke-width="1"/>
<path d="M248.6 335.3h5" stroke="#888" stroke-width="1"/>
<path d="M256.7 352.3h5" stroke="#888" stroke-width="1"/>
<path d="M264.1 364.1h5" stroke="#888" stroke-width="1"/>
<path d="M272.2 370.8h5" stroke="#888" stroke-width="1"/>
<path d="M280.4 373.3h5" stroke="#888" stroke-width="1"/>
<path d="M288.5 374.5h5" stroke="#888" stroke-width="1"/>
<path d="M241.2 336.8h5" stroke="#1A3C8C" stroke-width="1.2"/>
<path d="M248.6 353h5" stroke="#1A3C8C" stroke-width="1.2"/>
<path d="M256.7 364.9h5" stroke="#1A3C8C" stroke-width="1.2"/>
<path d="M264.1 373h5" stroke="#1A3C8C" stroke-width="1.2"/>
<path d="M272.2 376h5" stroke="#1A3C8C" stroke-width="1.2"/>
<path d="M289 376.6h4" stroke="#F08030" stroke-width="1.2"/>
<path d="M297.1 376.6h4" stroke="#F08030" stroke-width="1.2"/>
<path d="M305.3 376.6h4" stroke="#F08030" stroke-width="1.2"/>
<path d="M313.5 376.6h4" stroke="#F08030" stroke-width="1.2"/>
<rect x="243.7" y="305" width="79.1" height="77.6" fill="none" stroke="#111" stroke-width="1.2"/>
<path d="M243.7 319.2h2.5M243.7 376.9h2.5M322.8 319.2h-2.5M322.8 376.9h-2.5M283.3 305v2.5M283.3 382.6v-2.5" stroke="#111" stroke-width="1"/>
<text x="239.4" y="323.9" font-size="13" text-anchor="end" font-weight="normal" font-style="normal" font-family='"Liberation Sans", sans-serif' fill="#000" >2</text>
<text x="239.4" y="382.2" font-size="13" text-anchor="end" font-weight="normal" font-style="normal" font-family='"Liberation Sans", sans-serif' fill="#000" >1</text>
<text x="246.5" y="401" font-size="14" font-family='"Liberation Sans", sans-serif' text-anchor="middle">10<tspan dy="-6" font-size="9.5">3</tspan></text>
<text x="286.5" y="401" font-size="14" font-family='"Liberation Sans", sans-serif' text-anchor="middle">10<tspan dy="-6" font-size="9.5">4</tspan></text>
<text x="266.3" y="416.8" font-size="15.3" font-family='"Liberation Sans", sans-serif'><tspan font-style="italic">t</tspan> (ns)</text>
<text transform="translate(222.3 344.6) rotate(-90)" font-size="15.5" font-family='"Liberation Sans", sans-serif' text-anchor="middle"><tspan font-style="italic">g</tspan><tspan dy="-6" font-size="10.5">(2)</tspan><tspan dy="6">(</tspan><tspan font-style="italic">t</tspan>)</text>
<text x="362" y="16.6" font-size="29" text-anchor="start" font-weight="bold" font-style="normal" font-family='"Liberation Sans", sans-serif' fill="#000" >c</text>
<text x="528.5" y="19" font-size="22.3" letter-spacing="0.9" font-family='"Liberation Sans", sans-serif'><tspan font-family='"Liberation Serif", serif' font-style="italic">ε</tspan> (deg)</text>
<text x="492.2" y="53.8" font-size="22" text-anchor="middle" font-weight="normal" font-style="normal" font-family='"Liberation Sans", sans-serif' fill="#000" >–90</text>
<text x="550" y="53.8" font-size="22" text-anchor="middle" font-weight="normal" font-style="normal" font-family='"Liberation Sans", sans-serif' fill="#000" >–45</text>
<text x="611.5" y="53.8" font-size="22" text-anchor="middle" font-weight="normal" font-style="normal" font-family='"Liberation Sans", sans-serif' fill="#000" >0</text>
<text x="671" y="53.8" font-size="22" text-anchor="middle" font-weight="normal" font-style="normal" font-family='"Liberation Sans", sans-serif' fill="#000" >45</text>
<text x="448" y="256.6" font-size="22" text-anchor="middle" font-weight="normal" font-style="normal" font-family='"Liberation Sans", sans-serif' fill="#000" >0</text>
<text x="506.43" y="256.6" font-size="22" text-anchor="middle" font-weight="normal" font-style="normal" font-family='"Liberation Sans", sans-serif' fill="#000" >45</text>
<text x="564.87" y="256.6" font-size="22" text-anchor="middle" font-weight="normal" font-style="normal" font-family='"Liberation Sans", sans-serif' fill="#000" >90</text>
<text x="623.3" y="256.6" font-size="22" text-anchor="middle" font-weight="normal" font-style="normal" font-family='"Liberation Sans", sans-serif' fill="#000" >135</text>
<text x="437.8" y="114.5" font-size="22" text-anchor="end" font-weight="normal" font-style="normal" font-family='"Liberation Sans", sans-serif' fill="#000" >50</text>
<text x="437.8" y="183.1" font-size="22" text-anchor="end" font-weight="normal" font-style="normal" font-family='"Liberation Sans", sans-serif' fill="#000" >0</text>
<text transform="translate(400.6 145.8) rotate(-90)" font-size="22" font-family='"Liberation Sans", sans-serif' text-anchor="middle">PL variation (%)</text>
<line x1="447.7" y1="175.1" x2="680.4" y2="175.1" stroke="#BDBDBD" stroke-width="1.4" stroke-dasharray="5.5 4"/>
<rect x="447.7" y="63" width="232.7" height="168.1" fill="none" stroke="#111" stroke-width="1.2"/>
<path d="M467.48 231.1v-3M486.95 231.1v-3M506.43 231.1v-3M525.91 231.1v-3M545.39 231.1v-3M564.87 231.1v-3M584.34 231.1v-3M603.82 231.1v-3M623.3 231.1v-3M642.77 231.1v-3M662.25 231.1v-3M456.84 63v3M476.31 63v3M495.78 63v3M515.25 63v3M534.72 63v3M554.19 63v3M573.66 63v3M593.13 63v3M612.6 63v3M632.07 63v3M651.54 63v3M671.01 63v3M447.7 209.55h3M680.4 209.55h-3M447.7 140.85h3M680.4 140.85h-3M447.7 106.5h3M680.4 106.5h-3M447.7 72.15h3M680.4 72.15h-3" stroke="#111" stroke-width="1" fill="none"/>
<line x1="448" y1="63" x2="448" y2="231.1" stroke="#FEBB3A" stroke-width="2.6" stroke-dasharray="8.3 5.6" stroke-dashoffset="6.9"/>
<line x1="506.23" y1="63" x2="506.23" y2="231.1" stroke="#96001E" stroke-width="2.6" stroke-dasharray="8.3 5.6" stroke-dashoffset="6.9"/>
<line x1="564.66" y1="63" x2="564.66" y2="231.1" stroke="#0098DA" stroke-width="2.6" stroke-dasharray="8.3 5.6" stroke-dashoffset="6.9"/>
<defs><clipPath id="cclip"><rect x="447.7" y="63" width="232.7" height="168.1"/></clipPath></defs><g clip-path="url(#cclip)">
<path d="M448 94.8V120.8M443.6 94.8H452.4M443.6 120.8H452.4" stroke="#808080" stroke-width="1.2" fill="none"/>
<path d="M454.49 74.4V103.4M450.09 74.4H458.89M450.09 103.4H458.89" stroke="#808080" stroke-width="1.2" fill="none"/>
<path d="M460.99 64.5V94.5M456.59 64.5H465.38M456.59 94.5H465.38" stroke="#808080" stroke-width="1.2" fill="none"/>
<path d="M467.48 89V117M463.08 89H471.88M463.08 117H471.88" stroke="#808080" stroke-width="1.2" fill="none"/>
<path d="M473.97 113.1V140.1M469.57 113.1H478.37M469.57 140.1H478.37" stroke="#808080" stroke-width="1.2" fill="none"/>
<path d="M480.46 120.4V145.4M476.06 120.4H484.86M476.06 145.4H484.86" stroke="#808080" stroke-width="1.2" fill="none"/>
<path d="M486.95 138.5V163.7M482.56 138.5H491.35M482.56 163.7H491.35" stroke="#808080" stroke-width="1.2" fill="none"/>
<path d="M493.45 155.8V177.8M489.05 155.8H497.85M489.05 177.8H497.85" stroke="#808080" stroke-width="1.2" fill="none"/>
<path d="M499.94 176.5V197.9M495.54 176.5H504.34M495.54 197.9H504.34" stroke="#222" stroke-width="1.2" fill="none"/>
<path d="M506.43 191.9V213.9M502.03 191.9H510.83M502.03 213.9H510.83" stroke="#222" stroke-width="1.2" fill="none"/>
<path d="M512.92 182V202M508.52 182H517.32M508.52 202H517.32" stroke="#222" stroke-width="1.2" fill="none"/>
<path d="M519.42 178.8V198.8M515.02 178.8H523.82M515.02 198.8H523.82" stroke="#808080" stroke-width="1.2" fill="none"/>
<path d="M525.91 139.7V163.7M521.51 139.7H530.31M521.51 163.7H530.31" stroke="#808080" stroke-width="1.2" fill="none"/>
<path d="M532.4 130.6V154.6M528 130.6H536.8M528 154.6H536.8" stroke="#808080" stroke-width="1.2" fill="none"/>
<path d="M538.89 104.5V128.5M534.5 104.5H543.29M534.5 128.5H543.29" stroke="#808080" stroke-width="1.2" fill="none"/>
<path d="M545.39 106.7V132.7M540.99 106.7H549.79M540.99 132.7H549.79" stroke="#808080" stroke-width="1.2" fill="none"/>
<path d="M551.88 111.4V137.4M547.48 111.4H556.28M547.48 137.4H556.28" stroke="#808080" stroke-width="1.2" fill="none"/>
<path d="M558.37 90.4V116.4M553.97 90.4H562.77M553.97 116.4H562.77" stroke="#808080" stroke-width="1.2" fill="none"/>
<path d="M564.87 118.8V145.8M560.47 118.8H569.26M560.47 145.8H569.26" stroke="#222" stroke-width="1.2" fill="none"/>
<path d="M571.36 91.5V119.5M566.96 91.5H575.76M566.96 119.5H575.76" stroke="#222" stroke-width="1.2" fill="none"/>
<path d="M577.85 115.4V141.4M573.45 115.4H582.25M573.45 141.4H582.25" stroke="#222" stroke-width="1.2" fill="none"/>
<path d="M590.84 135.4V160.4M586.44 135.4H595.24M586.44 160.4H595.24" stroke="#808080" stroke-width="1.2" fill="none"/>
<path d="M603.82 144.4V169M599.42 144.4H608.22M599.42 169H608.22" stroke="#222" stroke-width="1.2" fill="none"/>
<path d="M616.81 192.4V213.4M612.41 192.4H621.21M612.41 213.4H621.21" stroke="#222" stroke-width="1.2" fill="none"/>
<path d="M629.79 203.9V223.9M625.39 203.9H634.19M625.39 223.9H634.19" stroke="#222" stroke-width="1.2" fill="none"/>
<path d="M642.77 182.1V204.1M638.38 182.1H647.17M638.38 204.1H647.17" stroke="#222" stroke-width="1.2" fill="none"/>
<path d="M655.76 149.6V172.6M651.36 149.6H660.16M651.36 172.6H660.16" stroke="#222" stroke-width="1.2" fill="none"/>
<path d="M668.75 130.7V155.7M664.35 130.7H673.14M664.35 155.7H673.14" stroke="#222" stroke-width="1.2" fill="none"/>
<path d="M681.08 102.9V128.9M676.68 102.9H685.48M676.68 128.9H685.48" stroke="#222" stroke-width="1.2" fill="none"/>
</g>
<circle cx="448" cy="107.8" r="4" fill="#00A66C" stroke="#111" stroke-width="0.9"/>
<circle cx="454.49" cy="88.9" r="4" fill="#00A66C" stroke="#111" stroke-width="0.9"/>
<circle cx="460.99" cy="79.5" r="4" fill="#00A66C" stroke="#111" stroke-width="0.9"/>
<circle cx="467.48" cy="103" r="4" fill="#00A66C" stroke="#111" stroke-width="0.9"/>
<circle cx="473.97" cy="126.6" r="4" fill="#00A66C" stroke="#111" stroke-width="0.9"/>
<circle cx="480.46" cy="132.9" r="4" fill="#00A66C" stroke="#111" stroke-width="0.9"/>
<circle cx="486.95" cy="151.1" r="4" fill="#00A66C" stroke="#111" stroke-width="0.9"/>
<circle cx="493.45" cy="166.8" r="4" fill="#00A66C" stroke="#111" stroke-width="0.9"/>
<circle cx="499.94" cy="187.2" r="4" fill="#00A66C" stroke="#111" stroke-width="0.9"/>
<circle cx="506.43" cy="202.9" r="4" fill="#00A66C" stroke="#111" stroke-width="0.9"/>
<circle cx="512.92" cy="192" r="4" fill="#00A66C" stroke="#111" stroke-width="0.9"/>
<circle cx="519.42" cy="188.8" r="4" fill="#00A66C" stroke="#111" stroke-width="0.9"/>
<circle cx="525.91" cy="151.7" r="4" fill="#00A66C" stroke="#111" stroke-width="0.9"/>
<circle cx="532.4" cy="142.6" r="4" fill="#00A66C" stroke="#111" stroke-width="0.9"/>
<circle cx="538.89" cy="116.5" r="4" fill="#00A66C" stroke="#111" stroke-width="0.9"/>
<circle cx="545.39" cy="119.7" r="4" fill="#00A66C" stroke="#111" stroke-width="0.9"/>
<circle cx="551.88" cy="124.4" r="4" fill="#00A66C" stroke="#111" stroke-width="0.9"/>
<circle cx="558.37" cy="103.4" r="4" fill="#00A66C" stroke="#111" stroke-width="0.9"/>
<circle cx="564.87" cy="132.3" r="4" fill="#00A66C" stroke="#111" stroke-width="0.9"/>
<circle cx="571.36" cy="105.5" r="4" fill="#00A66C" stroke="#111" stroke-width="0.9"/>
<circle cx="577.85" cy="128.4" r="4" fill="#00A66C" stroke="#111" stroke-width="0.9"/>
<circle cx="590.84" cy="147.9" r="4" fill="#00A66C" stroke="#111" stroke-width="0.9"/>
<circle cx="603.82" cy="156.7" r="4" fill="#00A66C" stroke="#111" stroke-width="0.9"/>
<circle cx="616.81" cy="202.9" r="4" fill="#00A66C" stroke="#111" stroke-width="0.9"/>
<circle cx="629.79" cy="213.9" r="4" fill="#00A66C" stroke="#111" stroke-width="0.9"/>
<circle cx="642.77" cy="193.1" r="4" fill="#00A66C" stroke="#111" stroke-width="0.9"/>
<circle cx="655.76" cy="161.1" r="4" fill="#00A66C" stroke="#111" stroke-width="0.9"/>
<circle cx="668.75" cy="143.2" r="4" fill="#00A66C" stroke="#111" stroke-width="0.9"/>
<circle cx="681.08" cy="115.9" r="4" fill="#00A66C" stroke="#111" stroke-width="0.9"/>
<rect x="587.3" y="71.1" width="88.6" height="24.8" fill="#CCCCCC" stroke="#333" stroke-width="1"/>
<text x="590.3" y="89.8" font-size="18.3" font-family='"Liberation Sans", sans-serif'><tspan font-style="italic">B</tspan> = 240 G</text>
<line x1="448" y1="231.1" x2="535" y2="304.6" stroke="#FEBB3A" stroke-width="2.6" stroke-dasharray="8.3 5.6"/>
<circle cx="448" cy="231.1" r="3.2" fill="#FEBB3A" stroke="#FEBB3A" stroke-width="0"/>
<line x1="506.43" y1="231.1" x2="593.3" y2="304.6" stroke="#96001E" stroke-width="2.6" stroke-dasharray="8.3 5.6"/>
<circle cx="506.43" cy="231.1" r="3.2" fill="#96001E" stroke="#96001E" stroke-width="0"/>
<line x1="564.87" y1="231.1" x2="651.6" y2="304.6" stroke="#0098DA" stroke-width="2.6" stroke-dasharray="8.3 5.6"/>
<circle cx="564.87" cy="231.1" r="3.2" fill="#0098DA" stroke="#0098DA" stroke-width="0"/>
<rect x="523.5" y="262.5" width="73" height="26" fill="#fff"/>
<text x="526.5" y="281.5" font-size="22.5" font-family='"Liberation Sans", sans-serif'><tspan font-family='"Liberation Serif", serif' font-style="italic" font-size="20">α</tspan> (deg)</text>
<text x="361" y="317.8" font-size="29" text-anchor="start" font-weight="bold" font-style="normal" font-family='"Liberation Sans", sans-serif' fill="#000" >d</text>
<rect x="453.5" y="337.3" width="47" height="51.3" fill="#E3E3E3" stroke="#C8C8C8" stroke-width="0.8"/>
<path d="M477 328.05V346.55M469.2 328.05H484.8M469.2 346.55H484.8" stroke="#333" stroke-width="1" fill="none"/>
<rect x="511.5" y="363.96" width="47" height="24.64" fill="#FEBB3A" stroke="#D09020" stroke-width="0.8"/>
<path d="M535 354.96V372.62M527.2 354.96H542.8M527.2 372.62H542.8" stroke="#333" stroke-width="1" fill="none"/>
<rect x="569.8" y="323.51" width="47" height="65.09" fill="#96001E" stroke="#96001E" stroke-width="0.8"/>
<path d="M593.3 312.91V332.25M585.5 312.91H601.1M585.5 332.25H601.1" stroke="#333" stroke-width="1" fill="none"/>
<rect x="628.1" y="354.62" width="47" height="33.98" fill="#0098DA" stroke="#0080C0" stroke-width="0.8"/>
<path d="M651.6 338.14V371.78M643.8 338.14H659.4M643.8 371.78H659.4" stroke="#333" stroke-width="1" fill="none"/>
<rect x="453.5" y="410.6" width="47" height="62.6" fill="#E3E3E3" stroke="#444" stroke-width="1"/>
<path d="M477 409.75V411.44M469.2 409.75H484.8M469.2 411.44H484.8" stroke="#444" stroke-width="1.1" fill="none"/>
<rect x="511.5" y="412.71" width="47" height="60.49" fill="#FEBB3A" stroke="#444" stroke-width="1"/>
<path d="M535 411.87V413.56M527.2 411.87H542.8M527.2 413.56H542.8" stroke="#444" stroke-width="1.1" fill="none"/>
<rect x="569.8" y="413.56" width="47" height="59.64" fill="#96001E" stroke="#444" stroke-width="1"/>
<path d="M593.3 413.13V413.98M585.5 413.13H601.1M585.5 413.98H601.1" stroke="#444" stroke-width="1.1" fill="none"/>
<rect x="628.1" y="422.02" width="47" height="51.18" fill="#0098DA" stroke="#444" stroke-width="1"/>
<path d="M651.6 421.17V422.86M643.8 421.17H659.4M643.8 422.86H659.4" stroke="#444" stroke-width="1.1" fill="none"/>
<rect x="448.1" y="304.6" width="232.4" height="168.6" fill="none" stroke="#111" stroke-width="1.2"/>
<line x1="448.1" y1="388.6" x2="680.5" y2="388.6" stroke="#111" stroke-width="1.2"/>
<path d="M477 388.6v-3M477 473.2v-3M535 388.6v-3M535 473.2v-3M593.3 388.6v-3M593.3 473.2v-3M651.6 388.6v-3M651.6 473.2v-3M448.1 346.55h3M680.5 346.55h-3M448.1 430.9h3M680.5 430.9h-3" stroke="#111" stroke-width="1" fill="none"/>
<text x="439.2" y="312" font-size="22" text-anchor="end" font-weight="normal" font-style="normal" font-family='"Liberation Sans", sans-serif' fill="#000" >10</text>
<text x="438.4" y="355.9" font-size="22" text-anchor="end" font-weight="normal" font-style="normal" font-family='"Liberation Sans", sans-serif' fill="#000" >5</text>
<text x="438.4" y="396" font-size="22" text-anchor="end" font-weight="normal" font-style="normal" font-family='"Liberation Sans", sans-serif' fill="#000" >0</text>
<text x="438.4" y="438.3" font-size="22" text-anchor="end" font-weight="normal" font-style="normal" font-family='"Liberation Sans", sans-serif' fill="#000" >1</text>
<text x="438.4" y="480.6" font-size="22" text-anchor="end" font-weight="normal" font-style="normal" font-family='"Liberation Sans", sans-serif' fill="#000" >0</text>
<text transform="translate(395.2 344.6) rotate(-90)" font-size="22" font-family='"Liberation Sans", sans-serif' text-anchor="middle"><tspan font-style="italic">C</tspan><tspan dy="5" font-size="14.5">2</tspan></text>
<polyline points="376.85,352.3 376.71,351.8 376.33,351.29 375.8,350.79 375.21,350.28 374.72,349.78 374.41,349.27 374.37,348.76 374.59,348.26 375.03,347.75 375.6,347.25 376.17,346.75 376.61,346.24 376.83,345.74 376.79,345.23 376.48,344.73 375.99,344.22 375.4,343.72 374.87,343.21 374.49,342.71 374.35,342.2" fill="none" stroke="#000" stroke-width="1.1" stroke-linejoin="round" />
<text transform="translate(374 432.5) rotate(-90)" font-size="21" font-family='"Liberation Sans", sans-serif' text-anchor="middle"><tspan font-family='"Liberation Serif", serif' font-style="italic">τ</tspan><tspan dy="4" font-size="14">2</tspan></text>
<text transform="translate(401.5 432) rotate(-90)" font-size="21" font-family='"Liberation Sans", sans-serif' text-anchor="middle">(μs)</text>
<text x="439" y="498.6" font-size="19.5" text-anchor="middle" font-weight="normal" font-style="italic" font-family='"Liberation Serif", serif' fill="#000" >α</text>
<text x="458.3" y="498.6" font-size="22.5" text-anchor="middle" font-weight="normal" font-style="normal" font-family='"Liberation Sans", sans-serif' fill="#000" >=</text>
<text x="470.3" y="498.8" font-size="22.5" text-anchor="start" font-weight="normal" font-style="normal" font-family='"Liberation Sans", sans-serif' fill="#000" >0°</text>
<text x="538" y="498.6" font-size="21" text-anchor="middle" font-weight="normal" font-style="normal" font-family='"Liberation Sans", sans-serif' fill="#000" >0°</text>
<text x="596.8" y="498.6" font-size="21" text-anchor="middle" font-weight="normal" font-style="normal" font-family='"Liberation Sans", sans-serif' fill="#000" >45°</text>
<text x="655.9" y="498.6" font-size="21" text-anchor="middle" font-weight="normal" font-style="normal" font-family='"Liberation Sans", sans-serif' fill="#000" >90°</text>
<text x="458.3" y="528.6" font-size="22.5" text-anchor="middle" font-weight="normal" font-style="italic" font-family='"Liberation Sans", sans-serif' fill="#000" >B</text>
<text x="476.6" y="528.6" font-size="22.5" text-anchor="middle" font-weight="normal" font-style="normal" font-family='"Liberation Sans", sans-serif' fill="#000" >=</text>
<text x="495" y="528.6" font-size="22.5" text-anchor="middle" font-weight="normal" font-style="normal" font-family='"Liberation Sans", sans-serif' fill="#000" >0</text>
<text x="582.7" y="527.2" font-size="22.5" text-anchor="middle" font-weight="normal" font-style="italic" font-family='"Liberation Sans", sans-serif' fill="#000" >B</text>
<text x="600.9" y="527.2" font-size="22.5" text-anchor="middle" font-weight="normal" font-style="normal" font-family='"Liberation Sans", sans-serif' fill="#000" >≠</text>
<text x="618.4" y="527.2" font-size="22.5" text-anchor="middle" font-weight="normal" font-style="normal" font-family='"Liberation Sans", sans-serif' fill="#000" >0</text>
<path d="M527.5 501 Q528.5 506 535 506 L592 506 Q598.5 506 600 510.5 Q601.5 506 608 506 L665 506 Q671.5 506 672.5 501" fill="none" stroke="#222" stroke-width="1.1"/>
</svg>
</body></html>
